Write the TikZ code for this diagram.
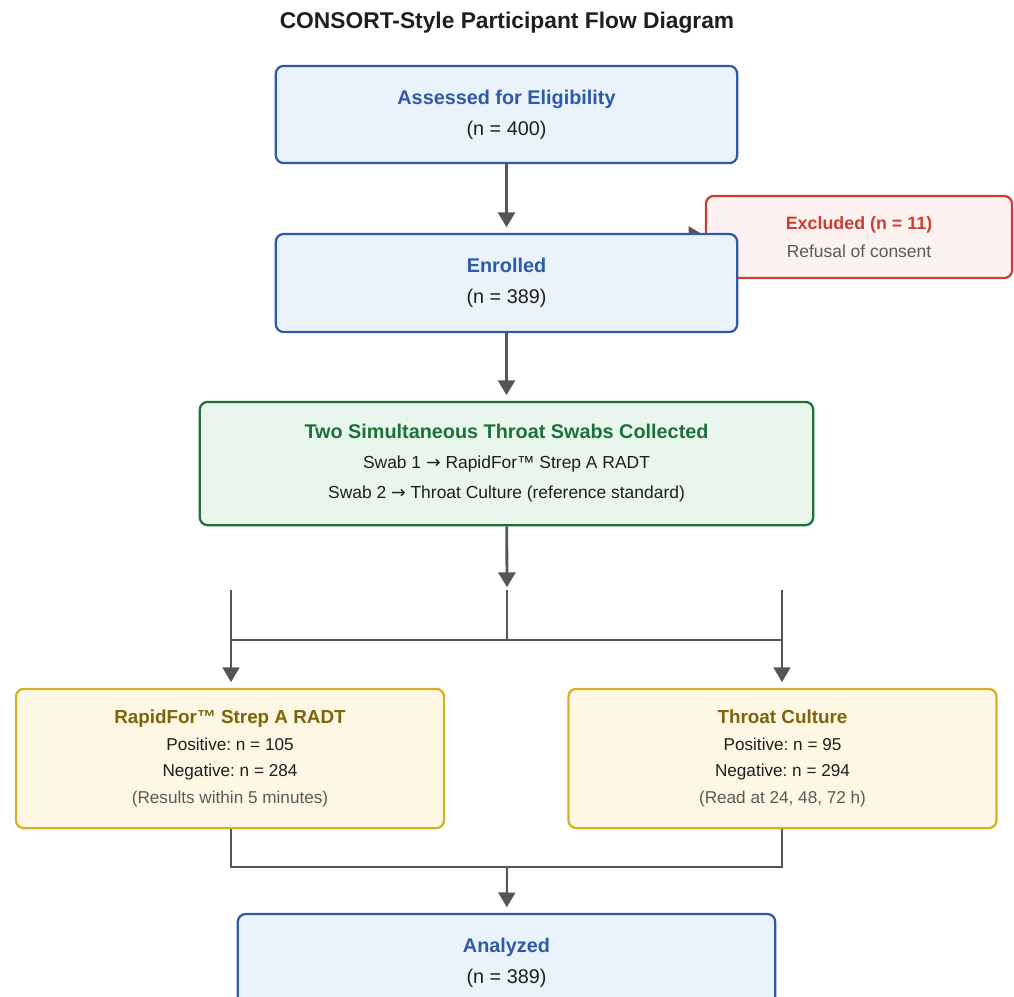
\documentclass[tikz,border=0pt]{standalone}
\usepackage{fontspec}
\setmainfont{Liberation Sans}
\newfontfamily\arrowfont{DejaVu Sans}
\usetikzlibrary{arrows.meta,positioning}
\frenchspacing
\newcommand{\toarrow}{{\arrowfont →}}
\definecolor{blueline}{RGB}{46,90,168}
\definecolor{bluefill}{RGB}{234,242,251}
\definecolor{redline}{RGB}{204,62,50}
\definecolor{redfill}{RGB}{254,241,241}
\definecolor{greenline}{RGB}{30,112,58}
\definecolor{greenfill}{RGB}{232,246,238}
\definecolor{yelline}{RGB}{216,176,36}
\definecolor{yelfill}{RGB}{254,247,228}
\definecolor{yeltext}{RGB}{125,100,10}
\definecolor{greytext}{RGB}{90,90,90}
\definecolor{darktext}{RGB}{30,30,30}
\definecolor{arrowgrey}{RGB}{85,85,85}

\begin{document}
\begin{tikzpicture}[x=0.025cm, y=-0.025cm,
  box/.style={draw, rounded corners=5.5pt, line width=1.6pt, align=center, inner sep=0pt, text=darktext},
  bluebox/.style={box, draw=blueline, fill=bluefill, font=\fontsize{14.1}{22}\selectfont},
  redbox/.style={box, draw=redline, fill=redfill, font=\fontsize{12.4}{20}\selectfont, minimum width=7.65cm, minimum height=2.05cm},
  greenbox/.style={box, draw=greenline, fill=greenfill, font=\fontsize{12.4}{21.3}\selectfont, minimum width=15.33cm, minimum height=3.08cm},
  yelbox/.style={box, draw=yelline, fill=yelfill, font=\fontsize{12.2}{19}\selectfont, minimum width=10.7cm, minimum height=3.48cm},
  arr/.style={draw=arrowgrey, line width=2pt, -{Triangle[width=12pt,length=10.5pt]}, shorten >=4pt},
  link/.style={draw=arrowgrey, line width=1.5pt},
  thinarr/.style={link, -{Triangle[width=12pt,length=10.5pt]}, shorten >=4pt}]
  \useasboundingbox (0,0) rectangle (1014,996);
  \clip (0,0) rectangle (1014,996);

  % Title
  \node[font=\fontsize{16.2}{18}\selectfont\bfseries, text=darktext] (title) at (507,23) {CONSORT-Style Participant Flow Diagram};

  % Eligibility and exclusion
  \node[bluebox, minimum width=11.53cm, minimum height=2.43cm] (assess) at (506.5,114.5)
    {{\bfseries\color{blueline}Assessed for Eligibility}\\(n = 400)};
  \node[redbox] (excl) at (859,237)
    {{\fontsize{12.7}{20}\selectfont\bfseries\color{redline}Excluded (n = 11)}\\{\color{greytext}Refusal of consent}};
  \coordinate (exclfrom) at (507,235);
  \path[arr, shorten >=1pt] (exclfrom) -- (exclfrom -| excl.west);
  \node[bluebox, minimum width=11.53cm, minimum height=2.45cm] (enroll) at (506.5,283)
    {{\bfseries\color{blueline}Enrolled}\\(n = 389)};

  % Swabs
  \node[greenbox] (swabs) at (506.5,463.5)
    {{\fontsize{14.1}{21.3}\selectfont\bfseries\color{greenline}Two Simultaneous Throat Swabs Collected}\\
     Swab 1 \toarrow{} RapidFor™ Strep A RADT\\
     Swab 2 \toarrow{} Throat Culture (reference standard)};

  \path[arr] (assess) -- (enroll);
  \path[arr] (enroll) -- (swabs);

  % Two tests
  \node[yelbox] (radt) at (230,758.5)
    {{\fontsize{13.4}{19}\selectfont\bfseries\color{yeltext}RapidFor™ Strep A RADT}\\
     Positive: n = 105\\Negative: n = 284\\{\color{greytext}(Results within 5 minutes)}};
  \node[yelbox] (cult) at (782.5,758.5)
    {{\fontsize{13.4}{19}\selectfont\bfseries\color{yeltext}Throat Culture}\\
     Positive: n = 95\\Negative: n = 294\\{\color{greytext}(Read at 24, 48, 72 h)}};

  % Split
  \coordinate (splitc) at (507,590);
  \coordinate (splitl) at (231,590);
  \coordinate (splitr) at (782,590);
  \coordinate (bar) at (507,640);
  \path[arr, shorten >=2pt] (swabs) -- (splitc);
  \path[link] (splitc) -- (bar);
  \path[link] (bar -| splitl) -- (bar -| splitr);
  \path[thinarr] (splitl) -- (splitl |- radt.north);
  \path[thinarr] (splitr) -- (splitr |- cult.north);

  % Merge
  \node[bluebox, minimum width=13.43cm, minimum height=2.45cm] (anal) at (506.5,963)
    {{\bfseries\color{blueline}Analyzed}\\(n = 389)};
  \coordinate (merge) at (507,867);
  \path[link] (radt.south -| splitl) |- (merge) -| (cult.south -| splitr);
  \path[thinarr] (merge) -- (anal);
\end{tikzpicture}
\end{document}
